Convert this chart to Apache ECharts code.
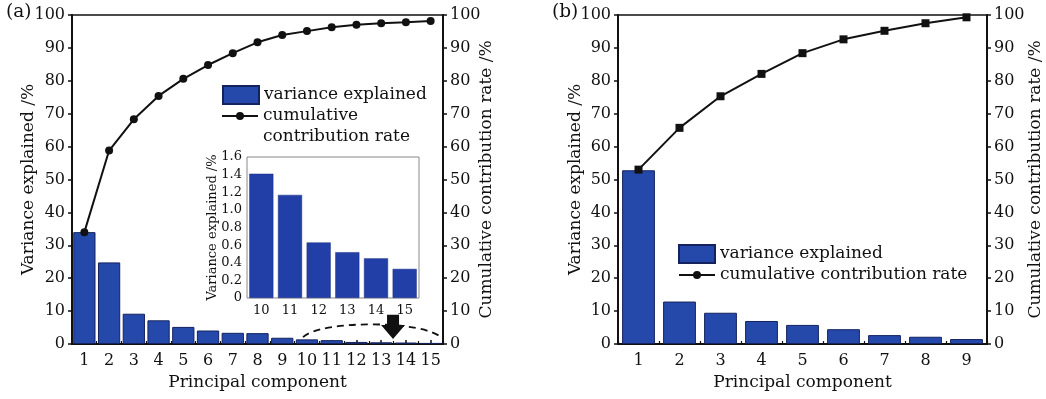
<!DOCTYPE html>
<html><head><meta charset="utf-8">
<script src="https://cdn.jsdelivr.net/npm/echarts@6/dist/echarts.min.js"></script>
<style>html,body{margin:0;padding:0;background:#fff}#c{width:1046px;height:399px}</style>
</head><body><div id="c"></div>
<script>
// ---- data ----
const categoriesA = ['1','2','3','4','5','6','7','8','9','10','11','12','13','14','15'];
const varianceA = [34.0, 24.8, 9.2, 7.2, 5.2, 4.1, 3.4, 3.3, 1.9, 1.41, 1.17, 0.63, 0.52, 0.45, 0.33];
const cumulativeA = [34.0, 58.8, 68.3, 75.4, 80.6, 84.8, 88.4, 91.7, 93.9, 95.1, 96.3, 97.0, 97.5, 97.8, 98.2];
const insetCategories = ['10','11','12','13','14','15'];
const insetVariance = [1.41, 1.17, 0.63, 0.52, 0.45, 0.33];
const categoriesB = ['1','2','3','4','5','6','7','8','9'];
const varianceB = [52.8, 12.9, 9.5, 7.0, 5.8, 4.5, 2.7, 2.2, 1.5];
const cumulativeB = [53.0, 65.7, 75.3, 82.1, 88.4, 92.6, 95.2, 97.5, 99.3];
const percentTicks = [0,10,20,30,40,50,60,70,80,90,100];
const insetTicks = [0,0.2,0.4,0.6,0.8,1.0,1.2,1.4,1.6];
const panelLabels = ['(a)', '(b)'];
const seriesNames = ['variance explained', 'cumulative contribution rate'];
const axisNames = { x: 'Principal component', yLeft: 'Variance explained /%', yRight: 'Cumulative contribution rate /%' };

// ---- styles ----
const FONT = 'DejaVu Serif';
const INK = '#111';
const BAR = '#2549ab';
const BAR_EDGE = '#14225e';
const step = a => a[1] - a[0];

const lineIcon = 'path://M0,9L36,9L36,11L0,11Z M22,10A4,4,0,1,1,14,10A4,4,0,1,1,22,10Z';

function yAxisPct(grid, pos, name, gap) {
  return {
    type: 'value', gridIndex: grid, position: pos,
    min: percentTicks[0], max: percentTicks[percentTicks.length-1], interval: step(percentTicks),
    name: name, nameLocation: 'middle', nameGap: gap, nameMoveOverlap: false,
    nameTextStyle: { fontFamily: FONT, fontSize: 17, color: INK },
    axisLine: { show: true, lineStyle: { color: INK, width: 2 } },
    axisTick: { show: true, inside: false, length: 4, lineStyle: { color: INK, width: 1.5 } },
    axisLabel: { fontFamily: FONT, fontSize: 16, color: INK, margin: 7 },
    splitLine: { show: false }
  };
}
function xMain(grid, cats) {
  return {
    type: 'category', gridIndex: grid, position: 'bottom', data: cats,
    name: axisNames.x, nameLocation: 'middle', nameGap: 30,
    nameTextStyle: { fontFamily: FONT, fontSize: 17, color: INK },
    axisLine: { show: true, lineStyle: { color: INK, width: 2 } },
    axisTick: { show: true, inside: true, alignWithLabel: true, length: 4, lineStyle: { color: INK, width: 1.5 } },
    axisLabel: { fontFamily: FONT, fontSize: 16, color: INK, margin: 9, interval: 0 },
    splitLine: { show: false }
  };
}
function xEdge(grid, cats) {
  return {
    type: 'category', gridIndex: grid, position: 'bottom', data: cats,
    axisLine: { show: false },
    axisTick: { show: true, inside: true, length: 3, interval: 0, lineStyle: { color: INK, width: 1.2 } },
    axisLabel: { show: false }, splitLine: { show: false }
  };
}

const option = {
  animation: false,
  backgroundColor: '#fff',
  title: [
    { text: panelLabels[0], left: 6, top: 3, padding: 0, textStyle: { fontFamily: FONT, fontSize: 18.5, fontWeight: 'normal', color: INK } },
    { text: panelLabels[1], left: 552, top: 3, padding: 0, textStyle: { fontFamily: FONT, fontSize: 18.5, fontWeight: 'normal', color: INK } }
  ],
  grid: [
    { left: 72, top: 15, width: 371, height: 329, show: true, borderColor: INK, borderWidth: 1.5, containLabel: false },
    { left: 247, top: 157, width: 172, height: 141, show: true, borderColor: '#888', borderWidth: 1, backgroundColor: '#fff' },
    { left: 618, top: 15, width: 369, height: 329, show: true, borderColor: INK, borderWidth: 1.5 }
  ],
  xAxis: [
    xMain(0, categoriesA),
    xEdge(0, categoriesA),
    {
      type: 'category', gridIndex: 1, data: insetCategories,
      axisLine: { show: false }, axisTick: { show: false },
      axisLabel: { fontFamily: FONT, fontSize: 13, color: INK, margin: 6, interval: 0 },
      splitLine: { show: false }
    },
    xMain(2, categoriesB),
    xEdge(2, categoriesB)
  ],
  yAxis: [
    yAxisPct(0, 'left', axisNames.yLeft, 35),
    yAxisPct(0, 'right', axisNames.yRight, 35),
    {
      type: 'value', gridIndex: 1,
      min: insetTicks[0], max: insetTicks[insetTicks.length-1], interval: step(insetTicks),
      name: axisNames.yLeft, nameLocation: 'middle', nameGap: 28, nameMoveOverlap: false,
      nameTextStyle: { fontFamily: FONT, fontSize: 13, color: INK },
      axisLine: { show: false }, axisTick: { show: false },
      axisLabel: { fontFamily: FONT, fontSize: 13, color: INK, margin: 5,
        formatter: v => v === 0 ? '0' : v.toFixed(1) },
      splitLine: { show: false }
    },
    yAxisPct(2, 'left', axisNames.yLeft, 33.5),
    yAxisPct(2, 'right', axisNames.yRight, 40)
  ],
  legend: [
    { left: 222, top: 84.5, padding: 0, orient: 'vertical', selectedMode: false,
      itemWidth: 36, itemHeight: 18,
      textStyle: { fontFamily: FONT, fontSize: 17, color: INK, lineHeight: 21 },
      data: [{ name: seriesNames[0], icon: 'rect' }] },
    { left: 222, top: 84.5, padding: 0, orient: 'vertical', selectedMode: false,
      itemWidth: 36, itemHeight: 18,
      formatter: () => ' \ncumulative\ncontribution rate',
      textStyle: { fontFamily: FONT, fontSize: 17, color: INK, lineHeight: 21 },
      data: [{ name: seriesNames[1], icon: lineIcon }] },
    { left: 678, top: 243.5, padding: 0, orient: 'vertical', selectedMode: false,
      itemWidth: 36, itemHeight: 18, itemGap: 0,
      textStyle: { fontFamily: FONT, fontSize: 17, color: INK, lineHeight: 21 },
      data: [{ name: seriesNames[0], icon: 'rect' }, { name: seriesNames[1], icon: lineIcon }] }
  ],
  series: [
    { name: seriesNames[0], type: 'bar', xAxisIndex: 0, yAxisIndex: 0, data: varianceA,
      barCategoryGap: '10%',
      itemStyle: { color: BAR, borderColor: BAR_EDGE, borderWidth: 1 } },
    { name: seriesNames[1], type: 'line', xAxisIndex: 0, yAxisIndex: 1, data: cumulativeA,
      symbol: 'circle', symbolSize: 8,
      lineStyle: { color: INK, width: 2 }, itemStyle: { color: INK } },
    { name: 'inset', type: 'bar', xAxisIndex: 2, yAxisIndex: 2, data: insetVariance,
      barCategoryGap: '16%',
      itemStyle: { color: '#213fa6', borderColor: '#1a2f80', borderWidth: 0.5 } },
    { name: seriesNames[0], type: 'bar', xAxisIndex: 3, yAxisIndex: 3, data: varianceB,
      barCategoryGap: '20%',
      itemStyle: { color: BAR, borderColor: BAR_EDGE, borderWidth: 1 } },
    { name: seriesNames[1], type: 'line', xAxisIndex: 3, yAxisIndex: 4, data: cumulativeB,
      symbol: 'rect', symbolSize: 8,
      lineStyle: { color: INK, width: 2 }, itemStyle: { color: INK } }
  ]
};

const chart = echarts.init(document.getElementById('c'), null, { renderer: 'canvas' });
chart.setOption(option);

// ---- annotation (dashed zoom outline + arrow) placed through the axes ----
(function () {
  const x0 = chart.convertToPixel({ xAxisIndex: 0 }, 0);
  const x1 = chart.convertToPixel({ xAxisIndex: 0 }, 1);
  const px = i => x0 + (x1 - x0) * i;
  const py = v => chart.convertToPixel({ yAxisIndex: 0 }, v);
  const arcL = [px(8.84), py(2.1)], arcR = [px(14.46), py(1.8)];
  const cpY = py(7.3);
  const tip = [px(12.48), py(1.5)], stemTop = py(8.9), headBase = py(5.8);
  chart.setOption({
    graphic: [
      { type: 'bezierCurve', z: 10,
        shape: { x1: arcL[0], y1: arcL[1], x2: arcR[0], y2: arcR[1],
                 cpx1: arcL[0] + 18, cpy1: cpY, cpx2: arcR[0] - 18, cpy2: cpY },
        style: { stroke: INK, lineWidth: 1.8, lineDash: [7, 5], fill: null } },
      { type: 'polygon', z: 11,
        shape: { points: [[tip[0]-6, stemTop], [tip[0]+6, stemTop], [tip[0]+6, headBase], [tip[0]+12, headBase],
                          [tip[0], tip[1]], [tip[0]-12, headBase], [tip[0]-6, headBase]] },
        style: { fill: INK } }
    ]
  });
})();
</script>
</body></html>
